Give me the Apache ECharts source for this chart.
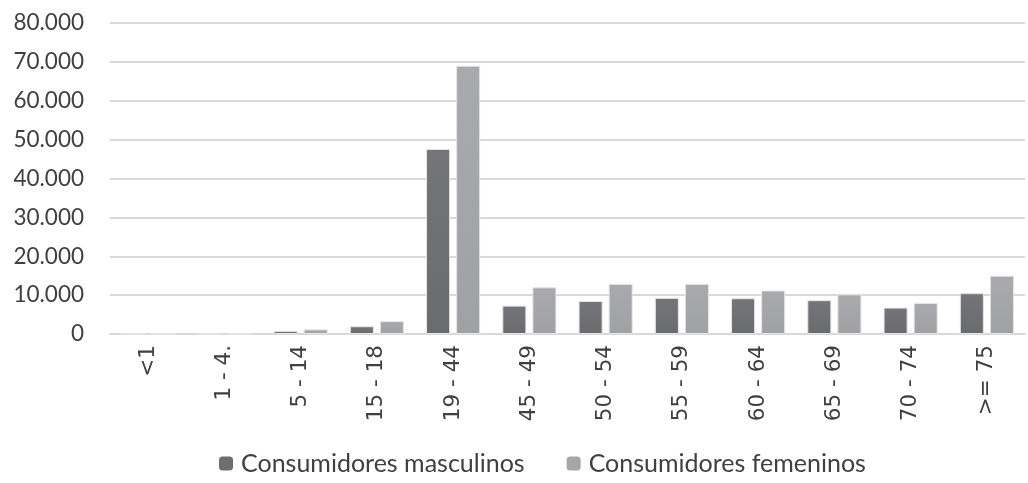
<!DOCTYPE html>
<html><head><meta charset="utf-8">
<script src="https://cdn.jsdelivr.net/npm/echarts@6/dist/echarts.min.js"></script>
<style>html,body{margin:0;padding:0;background:#fff}#c{width:1028px;height:483px}</style>
</head><body><div id="c"></div>
<script>
const categories = ['<1','1 - 4.','5 - 14','15 - 18','19 - 44','45 - 49','50 - 54','55 - 59','60 - 64','65 - 69','70 - 74','>= 75'];
const masculinos = [0, 0, 800, 2000, 47600, 7300, 8500, 9300, 9200, 8700, 6800, 10500];
const femeninos = [0, 0, 1200, 3300, 69000, 12000, 12900, 12900, 11200, 10200, 8000, 15000];
const seriesNames = ['Consumidores masculinos', 'Consumidores femeninos'];

function grad(top, bottom){
  return new echarts.graphic.LinearGradient(0,0,0,1,[{offset:0,color:top},{offset:1,color:bottom}]);
}
const chart = echarts.init(document.getElementById('c'));
chart.setOption({
  animation:false,
  grid:{left:110,right:3,top:23,bottom:149},
  legend:{bottom:2,left:214,itemWidth:14,itemHeight:14,itemGap:42,
    textStyle:{fontFamily:'Lato',fontSize:25,color:'#404040',padding:[0,0,0,3]},
    data:[{name:seriesNames[0],itemStyle:{color:'#6d6e71',borderWidth:0}},{name:seriesNames[1],itemStyle:{color:'#a5a6a9',borderWidth:0}}]},
  xAxis:{type:'category',data:categories,
    axisLine:{lineStyle:{color:'#d9d9d9',width:2}},axisTick:{show:false},
    axisLabel:{rotate:90,interval:0,margin:11,fontFamily:'DejaVu Sans',fontSize:21.5,color:'#404040'}},
  yAxis:{type:'value',min:0,max:80000,interval:10000,
    axisLine:{show:false},axisTick:{show:false},
    splitLine:{lineStyle:{color:'#d9d9d9',width:2}},
    axisLabel:{margin:26,fontFamily:'Lato',fontSize:22.5,color:'#404040',
      formatter:v=>v===0?'0':v.toLocaleString('de-DE')}},
  series:[
    {name:seriesNames[0],type:'bar',data:masculinos,barGap:'25%',barCategoryGap:'29%',
      itemStyle:{color:grad('#747579','#6a6b6e'),borderColor:'#e6e6e6',borderWidth:1}},
    {name:seriesNames[1],type:'bar',data:femeninos,
      itemStyle:{color:grad('#a9aaad','#a0a1a4'),borderColor:'#e6e6e6',borderWidth:1}}
  ]
});
</script></body></html>
